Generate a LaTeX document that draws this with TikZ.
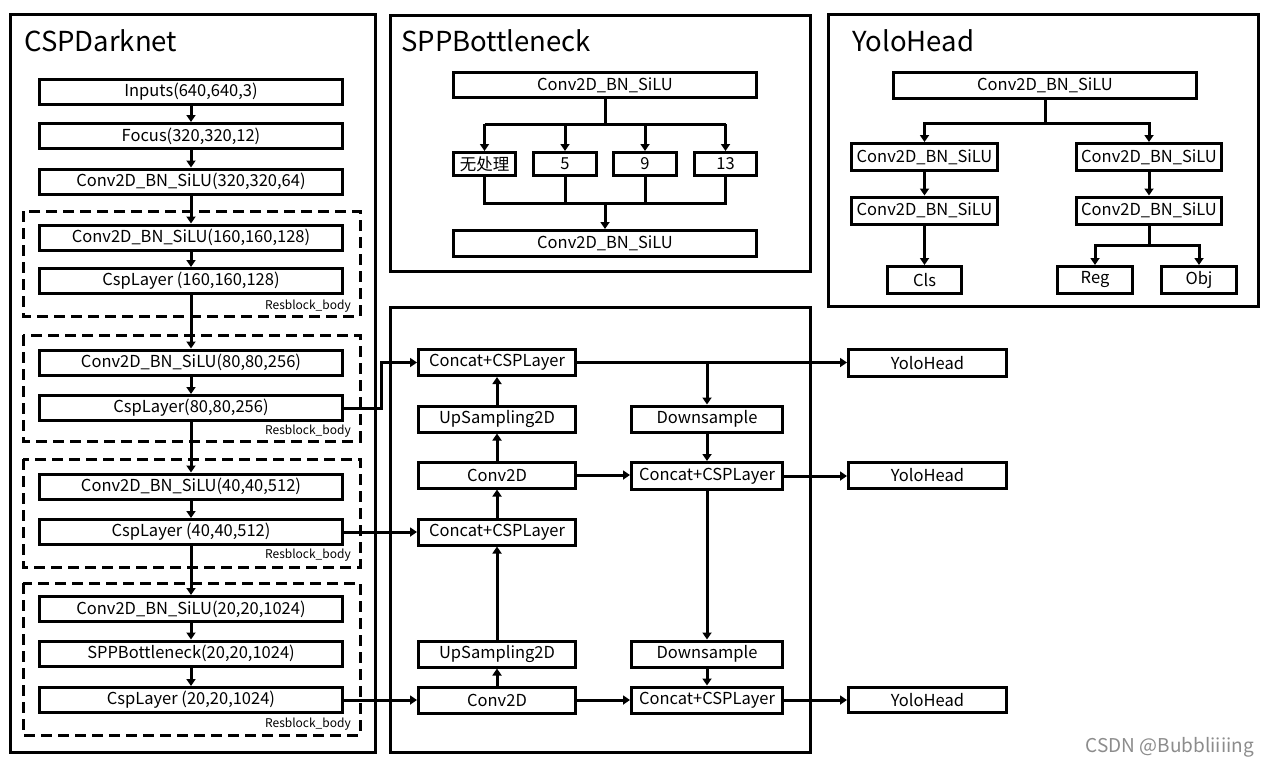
\documentclass[tikz,border=0pt]{standalone}
\usepackage{fontspec}
\setmainfont{Noto Sans CJK SC}
\usetikzlibrary{arrows.meta,calc}
\tikzset{
  box/.style={draw=black,line width=3pt,inner sep=0pt,minimum height=25pt,font=\fontsize{16.5}{18}\selectfont},
  dbox/.style={draw=black,line width=3pt,dash pattern=on 11pt off 6pt},
  obox/.style={draw=black,line width=3pt},
  con/.style={line width=3pt},
  arr/.style={line width=3pt,-{Triangle[length=7pt,width=9pt]}},
  ttl/.style={anchor=base west,inner sep=0pt,font=\fontsize{27.5}{30}\selectfont},
  rlbl/.style={anchor=east,inner sep=0pt,font=\fontsize{12}{13}\selectfont}
}
\begin{document}
\begin{tikzpicture}[x=1pt,y=-1pt]
\useasboundingbox[fill=white] (0,0) rectangle (1269,766);
% ---------- outer frames
\draw[obox] (10,14) rectangle (375,752);
\draw[obox] (390,15) rectangle (810,271);
\draw[obox] (828,14) rectangle (1258,306);
\draw[obox] (390,307) rectangle (810,752);
\node[ttl] (t1) at (24,51) {CSPDarknet};
\node[ttl] (t2) at (401,51) {SPPBottleneck};
\node[ttl] (t3) at (852,51) {YoloHead};
% ---------- CSPDarknet
\draw[dbox] (23,211) rectangle (360,316);
\draw[dbox] (23,335) rectangle (360,441);
\draw[dbox] (23,459) rectangle (360,567);
\draw[dbox] (23,583) rectangle (360,735);
\node[rlbl] (r1) at (351,306) {Resblock\_body};
\node[rlbl] (r2) at (351,431) {Resblock\_body};
\node[rlbl] (r3) at (351,555) {Resblock\_body};
\node[rlbl] (r4) at (351,724) {Resblock\_body};
\node[box,minimum width=303pt] (inp) at (191,91.5) {Inputs(640,640,3)};
\node[box,minimum width=303pt] (foc) at (191,136) {Focus(320,320,12)};
\node[box,minimum width=303pt] (c320) at (191,181.5) {Conv2D\_BN\_SiLU(320,320,64)};
\node[box,minimum width=303pt] (c160) at (191,237.5) {Conv2D\_BN\_SiLU(160,160,128)};
\node[box,minimum width=303pt] (l160) at (191,281) {CspLayer (160,160,128)};
\node[box,minimum width=303pt] (c80) at (191,362.5) {Conv2D\_BN\_SiLU(80,80,256)};
\node[box,minimum width=303pt] (l80) at (191,408) {CspLayer(80,80,256)};
\node[box,minimum width=303pt] (c40) at (191,486.5) {Conv2D\_BN\_SiLU(40,40,512)};
\node[box,minimum width=303pt] (l40) at (191,532) {CspLayer (40,40,512)};
\node[box,minimum width=303pt] (c20) at (191,609) {Conv2D\_BN\_SiLU(20,20,1024)};
\node[box,minimum width=303pt] (spp) at (191,653.5) {SPPBottleneck(20,20,1024)};
\node[box,minimum width=303pt] (l20) at (191,700) {CspLayer (20,20,1024)};
\draw[arr] (inp) -- (foc);
\draw[arr] (foc) -- (c320);
\draw[arr] (c320) -- (c160);
\draw[arr] (c160) -- (l160);
\draw[arr] (l160) -- (c80);
\draw[arr] (c80) -- (l80);
\draw[arr] (l80) -- (c40);
\draw[arr] (c40) -- (l40);
\draw[arr] (l40) -- (c20);
\draw[arr] (c20) -- (spp);
\draw[arr] (spp) -- (l20);
% ---------- SPPBottleneck
\node[box,minimum width=303pt] (sa) at (605,85) {Conv2D\_BN\_SiLU};
\node[box,minimum width=62pt,minimum height=23pt] (s0) at (484.5,164) {无处理};
\node[box,minimum width=63pt,minimum height=23pt] (s1) at (565,164) {5};
\node[box,minimum width=63pt,minimum height=23pt] (s2) at (645,164) {9};
\node[box,minimum width=62pt,minimum height=23pt] (s3) at (725.5,164) {13};
\node[box,minimum width=303pt,minimum height=26pt] (sb) at (605,243.5) {Conv2D\_BN\_SiLU};
\coordinate (sbr) at (605,124);
\coordinate (smg) at (605,203);
\draw[con] (sa.south) -- (sa.south |- sbr);
\draw[con] (s0.north |- sbr) -- (s3.north |- sbr);
\draw[arr] (s0.north |- sbr) -- (s0.north);
\draw[arr] (s1.north |- sbr) -- (s1.north);
\draw[arr] (s2.north |- sbr) -- (s2.north);
\draw[arr] (s3.north |- sbr) -- (s3.north);
\draw[con] (s0.south) -- (s0.south |- smg) -- (s3.south |- smg) -- (s3.south);
\draw[con] (s1.south) -- (s1.south |- smg);
\draw[con] (s2.south) -- (s2.south |- smg);
\draw[arr] (sb.north |- smg) -- (sb.north);
% ---------- YoloHead detail
\node[box,minimum width=303pt,minimum height=26pt] (ya) at (1045,85.5) {Conv2D\_BN\_SiLU};
\node[box,minimum width=146pt,minimum height=27pt] (yl1) at (924.5,157) {Conv2D\_BN\_SiLU};
\node[box,minimum width=146pt,minimum height=27pt] (yl2) at (924.5,210.5) {Conv2D\_BN\_SiLU};
\node[box,minimum width=145pt,minimum height=27pt] (yr1) at (1149,157) {Conv2D\_BN\_SiLU};
\node[box,minimum width=145pt,minimum height=27pt] (yr2) at (1149,210.5) {Conv2D\_BN\_SiLU};
\node[box,minimum width=74pt,minimum height=27pt] (cls) at (924.5,280) {Cls};
\node[box,minimum width=75pt,minimum height=27pt] (reg) at (1095,280) {Reg};
\node[box,minimum width=75pt,minimum height=27pt] (obj) at (1199,280) {Obj};
\coordinate (ybr) at (1045,123);
\coordinate (ybr2) at (1149,245);
\draw[con] (ya.south) -- (ybr);
\draw[arr] (ybr) -| (yl1.north);
\draw[arr] (ybr) -| (yr1.north);
\draw[arr] (yl1) -- (yl2);
\draw[arr] (yr1) -- (yr2);
\draw[arr] (yl2) -- (cls);
\draw[con] (yr2.south) -- (ybr2);
\draw[arr] (ybr2) -| (reg.north);
\draw[arr] (ybr2) -| (obj.north);
% ---------- Neck
\node[box,minimum width=157pt,minimum height=26pt] (cat1) at (497,362.5) {Concat+CSPLayer};
\node[box,minimum width=157pt,minimum height=26pt] (up1) at (497,419) {UpSampling2D};
\node[box,minimum width=157pt,minimum height=26pt] (cv1) at (497,475) {Conv2D};
\node[box,minimum width=157pt,minimum height=26pt] (cat2) at (497,532) {Concat+CSPLayer};
\node[box,minimum width=157pt,minimum height=26pt] (up2) at (497,654) {UpSampling2D};
\node[box,minimum width=157pt,minimum height=26pt] (cv2) at (497,700) {Conv2D};
\node[box,minimum width=151pt,minimum height=26pt] (dn1) at (707,419) {Downsample};
\node[box,minimum width=151pt,minimum height=27pt] (cat3) at (707,476) {Concat+CSPLayer};
\node[box,minimum width=151pt,minimum height=26pt] (dn2) at (707,654) {Downsample};
\node[box,minimum width=151pt,minimum height=26pt] (cat4) at (707,700) {Concat+CSPLayer};
\node[box,minimum width=158pt,minimum height=27pt] (yh1) at (927.5,363) {YoloHead};
\node[box,minimum width=158pt,minimum height=26pt] (yh2) at (927.5,475.5) {YoloHead};
\node[box,minimum width=158pt,minimum height=25pt] (yh3) at (927.5,700) {YoloHead};
\draw[arr] (l80.east) -- ++(37,0) |- (cat1.west);
\draw[arr] (l40.east) -- (l40.east -| cat2.west);
\draw[arr] (l20.east) -- (l20.east -| cv2.west);
\draw[arr] (cv2) -- (up2);
\draw[arr] (up2) -- (cat2);
\draw[arr] (cat2) -- (cv1);
\draw[arr] (cv1) -- (up1);
\draw[arr] (up1) -- (cat1);
\draw[arr] (cat1.east) -- (cat1.east -| yh1.west);
\draw[arr] (dn1.north |- cat1.east) -- (dn1.north);
\draw[arr] (dn1) -- (cat3);
\draw[arr] (cv1.east) -- (cv1.east -| cat3.west);
\draw[arr] (cat3.east) -- (cat3.east -| yh2.west);
\draw[arr] (cat3) -- (dn2);
\draw[arr] (dn2) -- (cat4);
\draw[arr] (cv2.east) -- (cv2.east -| cat4.west);
\draw[arr] (cat4.east) -- (cat4.east -| yh3.west);
% ---------- watermark
\node[anchor=base east,inner sep=0pt,text=black!45,font=\fontsize{19}{21}\selectfont] (wm) at (1254,752) {CSDN @Bubbliiiing};
\end{tikzpicture}
\end{document}
